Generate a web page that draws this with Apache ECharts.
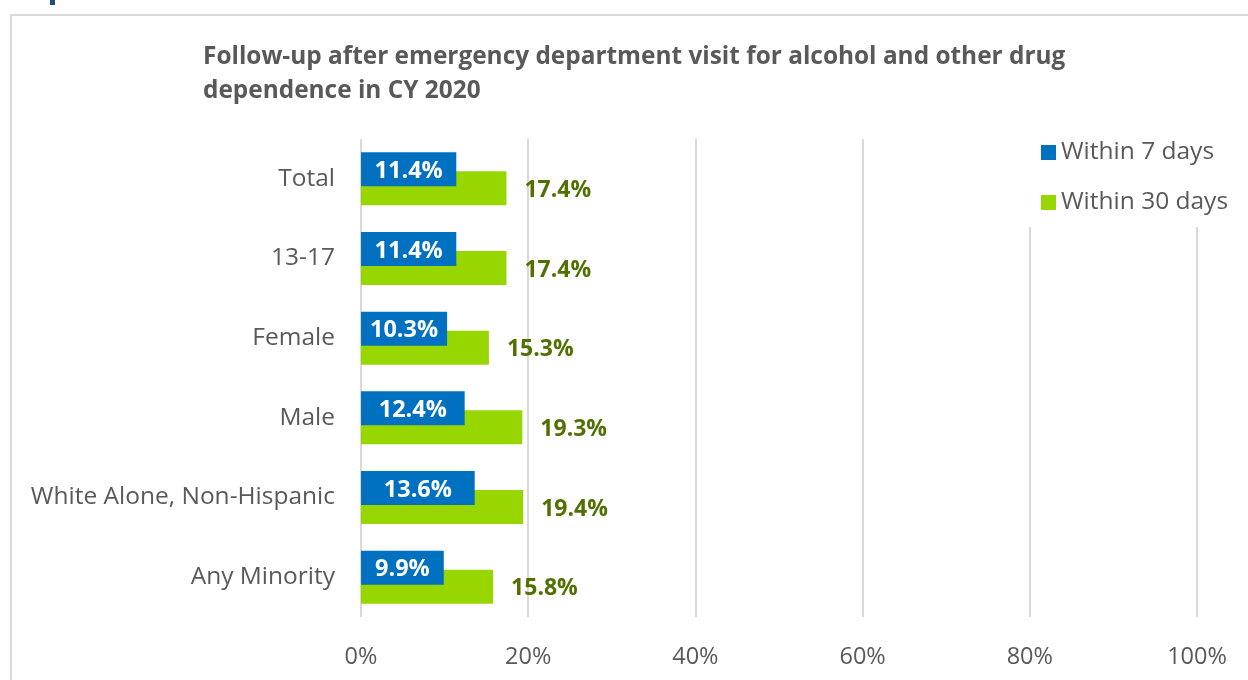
<!DOCTYPE html>
<html>
<head>
<meta charset="utf-8">
<script src="https://cdn.jsdelivr.net/npm/echarts@6/dist/echarts.min.js"></script>
<style>
  html, body { margin: 0; padding: 0; background: #fff; }
  #chart { width: 1248px; height: 680px; }
</style>
</head>
<body>
<div id="chart"></div>
<script>
// Follow-up rates (%) after an ED visit for alcohol and other drug dependence, CY 2020
const categories = ['Total', '13-17', 'Female', 'Male', 'White Alone, Non-Hispanic', 'Any Minority'];
const within7Days = [11.4, 11.4, 10.3, 12.4, 13.6, 9.9];
const within30Days = [17.4, 17.4, 15.3, 19.3, 19.4, 15.8];
const axisMin = 0;
const axisMax = 100;
const axisStep = 20;

const FONT = 'Open Sans';
const TEXT_GREY = '#595959';
const BLUE = '#0070C0';
const GREEN = '#98D600';
const GREEN_LABEL = '#507000';

const chart = echarts.init(document.getElementById('chart'), null, { renderer: 'canvas' });

const pct = p => p.value.toFixed(1) + '%';

chart.setOption({
  backgroundColor: '#ffffff',
  animation: false,
  textStyle: { fontFamily: FONT },
  graphic: [
    { type: 'rect', shape: { x: 11, y: 15, width: 1300, height: 700 },
      style: { fill: 'none', stroke: '#d9d9d9', lineWidth: 2 }, z: 0 },
    { type: 'rect', shape: { x: 50, y: 0, width: 5, height: 5 },
      style: { fill: '#1F4E79' }, z: 0 }
  ],
  title: {
    text: 'Follow-up after emergency department visit for alcohol and other drug\ndependence in CY 2020',
    left: 203,
    top: 40,
    padding: 0,
    textStyle: {
      fontFamily: FONT, fontSize: 24.4, fontWeight: 'bold', color: TEXT_GREY, lineHeight: 34
    }
  },
  legend: {
    orient: 'vertical',
    left: 1029,
    top: 128,
    padding: [12, 12, 12, 12],
    backgroundColor: '#ffffff',
    itemWidth: 15,
    itemHeight: 15,
    itemGap: 25,
    icon: 'rect',
    textStyle: { fontFamily: FONT, fontSize: 24.5, lineHeight: 24, color: TEXT_GREY },
    data: ['Within 7 days', 'Within 30 days']
  },
  grid: { left: 361, right: 51, top: 139, bottom: 63, containLabel: false },
  xAxis: {
    type: 'value',
    min: axisMin,
    max: axisMax,
    interval: axisStep,
    axisLine: { show: false },
    axisTick: { show: false },
    splitLine: { show: true, lineStyle: { color: '#d9d9d9', width: 2 } },
    axisLabel: {
      formatter: v => v + '%',
      margin: 28,
      fontFamily: FONT, fontSize: 23.5, color: TEXT_GREY
    }
  },
  yAxis: {
    type: 'category',
    inverse: true,
    data: categories,
    axisLine: { show: false },
    axisTick: { show: false },
    axisLabel: {
      margin: 26, padding: [4, 0, 0, 0],
      fontFamily: FONT, fontSize: 24.5, color: TEXT_GREY
    }
  },
  series: [
    {
      name: 'Within 7 days',
      type: 'bar',
      data: within7Days,
      barWidth: 34,
      barGap: '-44%',
      z: 3,
      itemStyle: { color: BLUE },
      label: {
        show: true, position: 'inside', offset: [0, 2], formatter: pct,
        fontFamily: FONT, fontSize: 23.5, fontWeight: 'bold', color: '#ffffff'
      }
    },
    {
      name: 'Within 30 days',
      type: 'bar',
      data: within30Days,
      barWidth: 34,
      barGap: '-44%',
      z: 2,
      itemStyle: { color: GREEN },
      label: {
        show: true, position: 'right', distance: 18, offset: [0, 2], formatter: pct,
        fontFamily: FONT, fontSize: 23, fontWeight: 'bold', color: GREEN_LABEL
      }
    }
  ]
});
</script>
</body>
</html>
